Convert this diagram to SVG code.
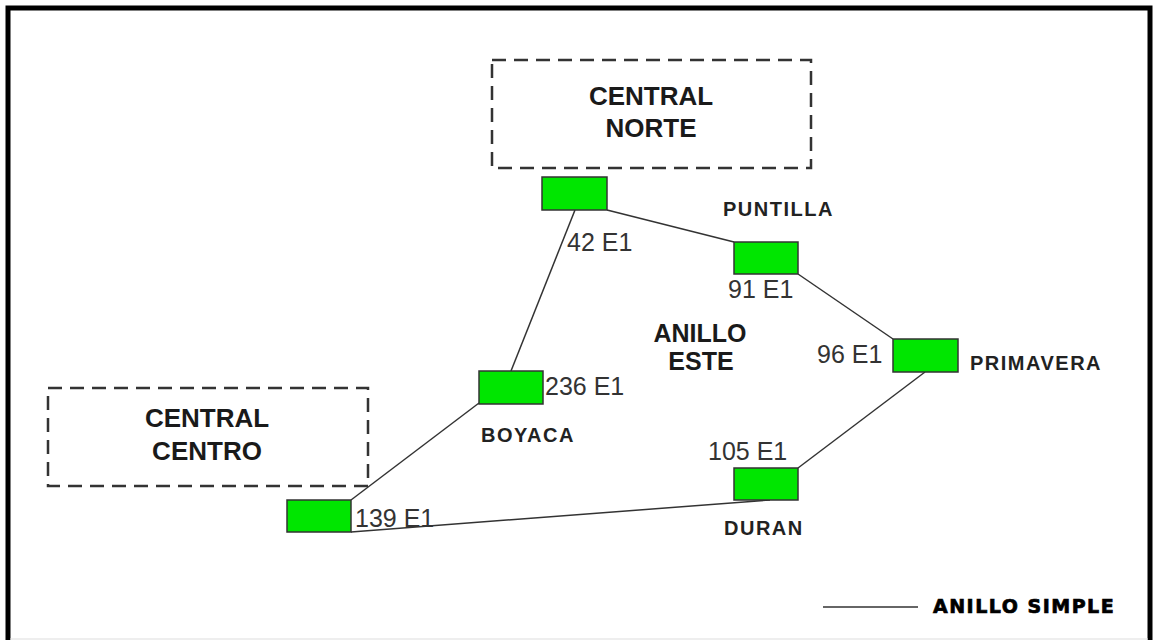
<svg xmlns="http://www.w3.org/2000/svg" width="1154" height="640" viewBox="0 0 1154 640">
<style>
.frame{fill:none;stroke:#000;stroke-width:5}
.central{fill:none;stroke:#333;stroke-width:2.5;stroke-dasharray:14 8}
.ctext{font-family:"Liberation Sans",Arial,sans-serif;font-weight:bold;font-size:26px;fill:#1a1a1a;text-anchor:middle}
.node{fill:#00e600;stroke:#333;stroke-width:1.5}
.link{stroke:#333;stroke-width:1.5;fill:none}
.num{font-family:"Liberation Sans",Arial,sans-serif;font-size:25px;fill:#333}
.name{font-family:"Liberation Sans",Arial,sans-serif;font-weight:bold;font-size:20px;letter-spacing:1.5px;fill:#222}
.ring{font-family:"Liberation Sans",Arial,sans-serif;font-weight:bold;font-size:25px;fill:#1a1a1a;text-anchor:middle}
.legend{font-family:"DejaVu Sans",sans-serif;font-weight:bold;font-size:19px;fill:#000;stroke:#000;stroke-width:0.7;letter-spacing:1.5px}
</style>
<rect x="0" y="0" width="1154" height="640" fill="#fff"/>
<rect class="frame" x="8" y="8" width="1142" height="650"/>
<line x1="10" y1="639" x2="1148" y2="639" stroke="#ddd" stroke-width="1"/>

<g id="connectors">
<line class="link" x1="575" y1="210" x2="511" y2="371"/>
<line class="link" x1="607" y1="210" x2="734" y2="242"/>
<line class="link" x1="798" y1="274" x2="893" y2="339"/>
<line class="link" x1="925" y1="372" x2="798" y2="468"/>
<line class="link" x1="770" y1="500" x2="351" y2="532"/>
<line class="link" x1="351" y1="500" x2="479" y2="403"/>
</g>

<g id="central-norte">
<rect class="central" x="492" y="60" width="319" height="108"/>
<text class="ctext" x="651" y="105">CENTRAL</text>
<text class="ctext" x="651" y="137">NORTE</text>
</g>
<g id="central-centro">
<rect class="central" x="48" y="388" width="320" height="98"/>
<text class="ctext" x="207" y="427">CENTRAL</text>
<text class="ctext" x="207" y="460">CENTRO</text>
</g>

<g id="node-norte">
<rect class="node" x="542" y="177" width="65" height="33"/>
<text class="num" x="567" y="251">42 E1</text>
</g>
<g id="node-puntilla">
<rect class="node" x="734" y="242" width="64" height="32"/>
<text class="name" x="723" y="216">PUNTILLA</text>
<text class="num" x="728" y="298">91 E1</text>
</g>
<g id="node-primavera">
<rect class="node" x="893" y="339" width="65" height="33"/>
<text class="name" x="970" y="370">PRIMAVERA</text>
<text class="num" x="817" y="363">96 E1</text>
</g>
<g id="node-boyaca">
<rect class="node" x="479" y="371" width="64" height="33"/>
<text class="name" x="481" y="442">BOYACA</text>
<text class="num" x="545" y="395">236 E1</text>
</g>
<g id="node-duran">
<rect class="node" x="734" y="468" width="64" height="32"/>
<text class="name" x="724" y="535">DURAN</text>
<text class="num" x="708" y="460">105 E1</text>
</g>
<g id="node-centro">
<rect class="node" x="287" y="500" width="64" height="32"/>
<text class="num" x="355" y="527">139 E1</text>
</g>

<g id="ring-label">
<text class="ring" x="700" y="342">ANILLO</text>
<text class="ring" x="701" y="370">ESTE</text>
</g>

<g id="legend">
<line class="link" x1="823" y1="607" x2="918" y2="607"/>
<text class="legend" x="933" y="613">ANILLO SIMPLE</text>
</g>
</svg>
